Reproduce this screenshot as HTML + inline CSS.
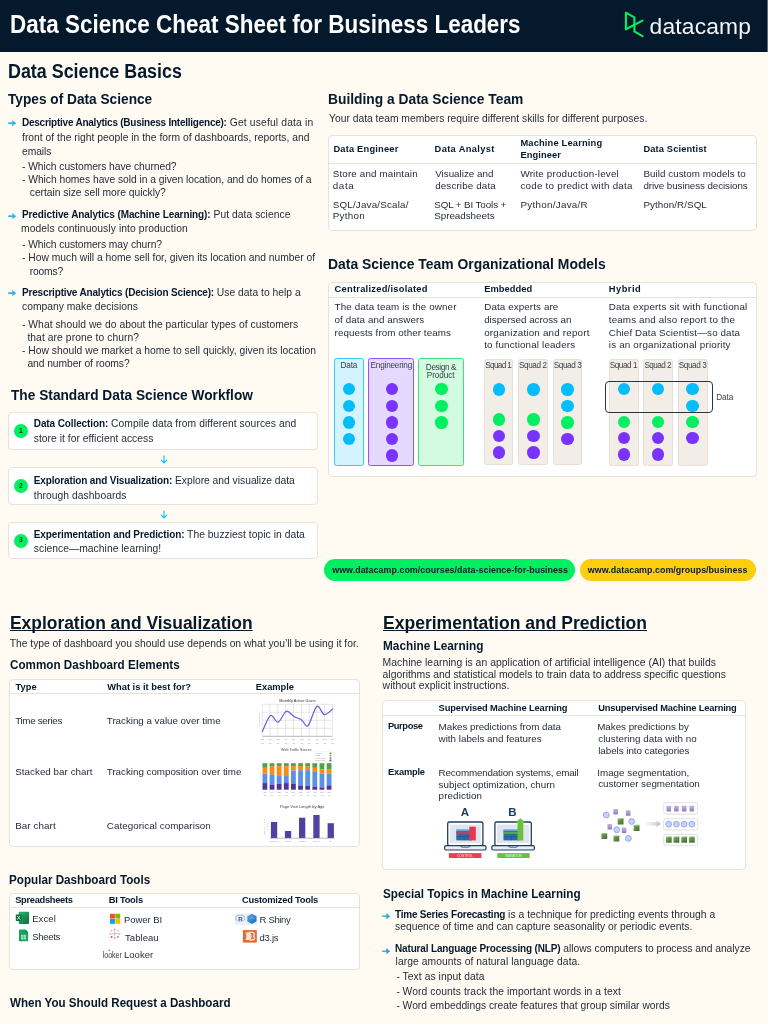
<!DOCTYPE html>
<html><head><meta charset="utf-8"><title>Data Science Cheat Sheet for Business Leaders</title>
<style>
html,body{margin:0;padding:0;}
body{width:768px;height:1024px;overflow:hidden;background:#FFFBF3;position:relative;font-family:"Liberation Sans",Arial,sans-serif;color:#1f2735;}
.t{position:absolute;white-space:nowrap;line-height:1;}
.t b{font-weight:700;color:#05192D;font-size:0.97em;}
.r{position:absolute;}
</style></head><body>
<div class="r" style="left:0.0px;top:0.0px;width:767.0px;height:51.6px;background:#05192D;"></div>
<div class="r" style="left:767.0px;top:0.0px;width:1.0px;height:51.6px;background:#5b6a7e;"></div>
<div class="t" id="f1" style="left:10.11px;top:11.97px;font-size:25.2px;font-weight:700;color:#ffffff;transform:scaleX(0.8918);transform-origin:0 0;">Data Science Cheat Sheet for Business Leaders</div>
<svg style="position:absolute;left:0;top:0" width="768" height="52"><g fill="none" stroke="#03EF62" stroke-width="2.1" stroke-linejoin="round" stroke-linecap="round"><path d="M625.9 29.3 L625.9 12.7 L634.4 17.4 L634.4 31.4 L642.5 36.2"/><path d="M625.9 29.3 L642.5 20.6"/></g></svg>
<div class="t" id="f2" style="left:649.60px;top:14.80px;font-size:22.8px;color:#f4f5f7;letter-spacing:0.171px;">datacamp</div>
<div class="t" id="f3" style="left:8.12px;top:62.28px;font-size:19.4px;font-weight:700;color:#05192D;transform:scaleX(0.9220);transform-origin:0 0;">Data Science Basics</div>
<div class="t" id="f4" style="left:8.00px;top:90.55px;font-size:15.3px;font-weight:700;color:#05192D;transform:scaleX(0.8944);transform-origin:0 0;">Types of Data Science</div>
<svg style="position:absolute;left:8.0px;top:119.0px" width="9" height="8" viewBox="0 0 9 8"><path d="M0.2 4.2 H5.6" fill="none" stroke="#35b2e4" stroke-width="1.8"/><path d="M4.3 1.1 L8.2 4.2 L4.3 7.3 Z" fill="#35b2e4"/></svg>
<div class="t" id="f5" style="left:22.00px;top:117.68px;font-size:10.3px;letter-spacing:0.160px;"><b style="letter-spacing:-0.234px">Descriptive Analytics (Business Intelligence):</b> Get useful data in</div>
<div class="t" id="f6" style="left:22.00px;top:132.68px;font-size:10.3px;letter-spacing:0.019px;">front of the right people in the form of dashboards, reports, and</div>
<div class="t" id="f7" style="left:22.00px;top:146.68px;font-size:10.3px;letter-spacing:-0.080px;">emails</div>
<div class="t" id="f8" style="left:22.00px;top:162.48px;font-size:10.3px;letter-spacing:-0.057px;">- Which customers have churned?</div>
<div class="t" id="f9" style="left:22.00px;top:175.08px;font-size:10.3px;letter-spacing:-0.038px;">- Which homes have sold in a given location, and do homes of a</div>
<div class="t" id="f10" style="left:29.79px;top:188.28px;font-size:10.3px;letter-spacing:-0.027px;">certain size sell more quickly?</div>
<svg style="position:absolute;left:8.0px;top:211.7px" width="9" height="8" viewBox="0 0 9 8"><path d="M0.2 4.2 H5.6" fill="none" stroke="#35b2e4" stroke-width="1.8"/><path d="M4.3 1.1 L8.2 4.2 L4.3 7.3 Z" fill="#35b2e4"/></svg>
<div class="t" id="f11" style="left:22.00px;top:210.38px;font-size:10.3px;letter-spacing:0.047px;"><b style="letter-spacing:-0.089px">Predictive Analytics (Machine Learning):</b> Put data science</div>
<div class="t" id="f12" style="left:21.00px;top:224.38px;font-size:10.3px;letter-spacing:0.088px;">models continuously into production</div>
<div class="t" id="f13" style="left:22.00px;top:239.78px;font-size:10.3px;letter-spacing:-0.070px;">- Which customers may churn?</div>
<div class="t" id="f14" style="left:22.00px;top:253.28px;font-size:10.3px;letter-spacing:0.002px;">- How much will a home sell for, given its location and number of</div>
<div class="t" id="f15" style="left:29.79px;top:267.08px;font-size:10.3px;letter-spacing:-0.180px;">rooms?</div>
<svg style="position:absolute;left:8.0px;top:289.0px" width="9" height="8" viewBox="0 0 9 8"><path d="M0.2 4.2 H5.6" fill="none" stroke="#35b2e4" stroke-width="1.8"/><path d="M4.3 1.1 L8.2 4.2 L4.3 7.3 Z" fill="#35b2e4"/></svg>
<div class="t" id="f16" style="left:22.00px;top:287.68px;font-size:10.3px;letter-spacing:0.014px;"><b style="letter-spacing:-0.163px">Prescriptive Analytics (Decision Science):</b> Use data to help a</div>
<div class="t" id="f17" style="left:22.00px;top:302.28px;font-size:10.3px;letter-spacing:0.010px;">company make decisions</div>
<div class="t" id="f18" style="left:22.00px;top:319.58px;font-size:10.3px;letter-spacing:0.036px;">- What should we do about the particular types of customers</div>
<div class="t" id="f19" style="left:27.39px;top:332.68px;font-size:10.3px;letter-spacing:0.078px;">that are prone to churn?</div>
<div class="t" id="f20" style="left:22.00px;top:346.08px;font-size:10.3px;letter-spacing:0.017px;">- How should we market a home to sell quickly, given its location</div>
<div class="t" id="f21" style="left:27.39px;top:359.08px;font-size:10.3px;letter-spacing:-0.068px;">and number of rooms?</div>
<div class="t" id="f22" style="left:10.62px;top:387.45px;font-size:15.3px;font-weight:700;color:#05192D;transform:scaleX(0.8959);transform-origin:0 0;">The Standard Data Science Workflow</div>
<div class="r" style="left:8.0px;top:412.0px;width:310.0px;height:38.0px;background:#fff;border:1px solid #e8e3da;border-radius:4px;box-sizing:border-box;"></div>
<div class="r" style="left:14px;top:424.4px;width:14px;height:14px;border-radius:50%;background:#03EF62;"></div>
<div class="t" style="left:14.0px;top:427.64px;font-size:6.8px;font-weight:700;color:#0a3a22;width:14px;text-align:center;">1</div>
<div class="t" id="f23" style="left:33.79px;top:418.93px;font-size:10.3px;letter-spacing:0.060px;"><b style="letter-spacing:-0.103px">Data Collection:</b> Compile data from different sources and</div>
<div class="t" id="f24" style="left:33.79px;top:433.58px;font-size:10.3px;letter-spacing:0.025px;">store it for efficient access</div>
<div class="r" style="left:8.0px;top:467.0px;width:310.0px;height:38.0px;background:#fff;border:1px solid #e8e3da;border-radius:4px;box-sizing:border-box;"></div>
<div class="r" style="left:14px;top:479.4px;width:14px;height:14px;border-radius:50%;background:#03EF62;"></div>
<div class="t" style="left:14.0px;top:482.64px;font-size:6.8px;font-weight:700;color:#0a3a22;width:14px;text-align:center;">2</div>
<div class="t" id="f25" style="left:33.79px;top:475.68px;font-size:10.3px;letter-spacing:-0.012px;"><b style="letter-spacing:-0.136px">Exploration and Visualization:</b> Explore and visualize data</div>
<div class="t" id="f26" style="left:33.79px;top:490.58px;font-size:10.3px;letter-spacing:0.059px;">through dashboards</div>
<div class="r" style="left:8.0px;top:522.0px;width:310.0px;height:37.0px;background:#fff;border:1px solid #e8e3da;border-radius:4px;box-sizing:border-box;"></div>
<div class="r" style="left:14px;top:533.9px;width:14px;height:14px;border-radius:50%;background:#03EF62;"></div>
<div class="t" style="left:14.0px;top:537.14px;font-size:6.8px;font-weight:700;color:#0a3a22;width:14px;text-align:center;">3</div>
<div class="t" id="f27" style="left:33.79px;top:529.88px;font-size:10.3px;letter-spacing:0.037px;"><b style="letter-spacing:-0.099px">Experimentation and Prediction:</b> The buzziest topic in data</div>
<div class="t" id="f28" style="left:33.79px;top:544.48px;font-size:10.3px;letter-spacing:0.033px;">science—machine learning!</div>
<svg style="position:absolute;left:160px;top:454.8px" width="8" height="9" viewBox="0 0 8 9"><path d="M4 0.5 V7.8 M1 4.8 L4 7.9 L7 4.8" fill="none" stroke="#06BDFC" stroke-width="1.1"/></svg>
<svg style="position:absolute;left:160px;top:509.5px" width="8" height="9" viewBox="0 0 8 9"><path d="M4 0.5 V7.8 M1 4.8 L4 7.9 L7 4.8" fill="none" stroke="#06BDFC" stroke-width="1.1"/></svg>
<div class="t" id="f29" style="left:328.28px;top:90.65px;font-size:15.3px;font-weight:700;color:#05192D;transform:scaleX(0.9023);transform-origin:0 0;">Building a Data Science Team</div>
<div class="t" id="f30" style="left:329.00px;top:114.28px;font-size:10.3px;letter-spacing:0.003px;">Your data team members require different skills for different purposes.</div>
<div class="r" style="left:328.0px;top:135.0px;width:429.0px;height:96.0px;background:#fff;border:1px solid #e8e3da;border-radius:4px;box-sizing:border-box;"></div>
<div class="r" style="left:329.0px;top:163.0px;width:427.0px;height:1.0px;background:#e8e3da;"></div>
<div class="t" id="f31" style="left:333.39px;top:145.03px;font-size:9.3px;font-weight:700;color:#05192D;letter-spacing:0.200px;">Data Engineer</div>
<div class="t" id="f32" style="left:434.60px;top:145.03px;font-size:9.3px;font-weight:700;color:#05192D;letter-spacing:0.336px;">Data Analyst</div>
<div class="t" id="f33" style="left:520.39px;top:139.13px;font-size:9.3px;font-weight:700;color:#05192D;letter-spacing:0.180px;">Machine Learning</div>
<div class="t" id="f34" style="left:520.39px;top:150.53px;font-size:9.3px;font-weight:700;color:#05192D;letter-spacing:0.100px;">Engineer</div>
<div class="t" id="f35" style="left:643.39px;top:144.83px;font-size:9.3px;font-weight:700;color:#05192D;letter-spacing:0.138px;">Data Scientist</div>
<div class="t" id="f36" style="left:332.79px;top:169.20px;font-size:9.8px;letter-spacing:0.153px;">Store and maintain</div>
<div class="t" id="f37" style="left:332.79px;top:180.50px;font-size:9.8px;letter-spacing:0.633px;">data</div>
<div class="t" id="f38" style="left:332.79px;top:199.50px;font-size:9.8px;letter-spacing:0.186px;">SQL/Java/Scala/</div>
<div class="t" id="f39" style="left:332.79px;top:210.70px;font-size:9.8px;letter-spacing:0.270px;">Python</div>
<div class="t" id="f40" style="left:435.19px;top:169.20px;font-size:9.8px;letter-spacing:0.008px;">Visualize and</div>
<div class="t" id="f41" style="left:435.19px;top:180.50px;font-size:9.8px;letter-spacing:0.142px;">describe data</div>
<div class="t" id="f42" style="left:434.19px;top:199.50px;font-size:9.8px;letter-spacing:-0.093px;">SQL + BI Tools +</div>
<div class="t" id="f43" style="left:434.19px;top:210.70px;font-size:9.8px;letter-spacing:-0.009px;">Spreadsheets</div>
<div class="t" id="f44" style="left:520.39px;top:169.20px;font-size:9.8px;letter-spacing:0.181px;">Write production-level</div>
<div class="t" id="f45" style="left:520.39px;top:180.50px;font-size:9.8px;letter-spacing:0.246px;">code to predict with data</div>
<div class="t" id="f46" style="left:520.39px;top:199.50px;font-size:9.8px;letter-spacing:0.300px;">Python/Java/R</div>
<div class="t" id="f47" style="left:643.39px;top:169.20px;font-size:9.8px;letter-spacing:0.052px;">Build custom models to</div>
<div class="t" id="f48" style="left:643.39px;top:180.50px;font-size:9.8px;letter-spacing:-0.083px;">drive business decisions</div>
<div class="t" id="f49" style="left:643.39px;top:199.50px;font-size:9.8px;letter-spacing:0.073px;">Python/R/SQL</div>
<div class="t" id="f50" style="left:328.09px;top:256.45px;font-size:15.3px;font-weight:700;color:#05192D;transform:scaleX(0.9082);transform-origin:0 0;">Data Science Team Organizational Models</div>
<div class="r" style="left:328.0px;top:282.0px;width:429.0px;height:195.0px;background:#fff;border:1px solid #e8e3da;border-radius:4px;box-sizing:border-box;"></div>
<div class="r" style="left:329.0px;top:297.0px;width:427.0px;height:1.0px;background:#e8e3da;"></div>
<div class="t" id="f51" style="left:334.60px;top:285.43px;font-size:9.3px;font-weight:700;color:#05192D;letter-spacing:0.263px;">Centralized/isolated</div>
<div class="t" id="f52" style="left:484.19px;top:285.43px;font-size:9.3px;font-weight:700;color:#05192D;letter-spacing:0.071px;">Embedded</div>
<div class="t" id="f53" style="left:608.79px;top:285.43px;font-size:9.3px;font-weight:700;color:#05192D;letter-spacing:0.480px;">Hybrid</div>
<div class="t" id="f54" style="left:334.60px;top:302.40px;font-size:9.8px;letter-spacing:0.124px;">The data team is the owner</div>
<div class="t" id="f55" style="left:334.60px;top:315.00px;font-size:9.8px;letter-spacing:0.078px;">of data and answers</div>
<div class="t" id="f56" style="left:334.60px;top:327.60px;font-size:9.8px;letter-spacing:0.079px;">requests from other teams</div>
<div class="t" id="f57" style="left:484.19px;top:302.40px;font-size:9.8px;letter-spacing:0.113px;">Data experts are</div>
<div class="t" id="f58" style="left:484.19px;top:315.00px;font-size:9.8px;letter-spacing:-0.022px;">dispersed across an</div>
<div class="t" id="f59" style="left:484.19px;top:327.60px;font-size:9.8px;letter-spacing:0.205px;">organization and report</div>
<div class="t" id="f60" style="left:484.19px;top:340.20px;font-size:9.8px;letter-spacing:0.165px;">to functional leaders</div>
<div class="t" id="f61" style="left:608.79px;top:302.40px;font-size:9.8px;letter-spacing:0.181px;">Data experts sit with functional</div>
<div class="t" id="f62" style="left:608.79px;top:315.00px;font-size:9.8px;letter-spacing:0.152px;">teams and also report to the</div>
<div class="t" id="f63" style="left:608.79px;top:327.60px;font-size:9.8px;letter-spacing:0.119px;">Chief Data Scientist—so data</div>
<div class="t" id="f64" style="left:608.79px;top:340.20px;font-size:9.8px;letter-spacing:0.186px;">is an organizational priority</div>
<div class="r" style="left:334.0px;top:358.2px;width:30.1px;height:108.1px;background:#d3f3ff;border:1px solid #3cc8f5;border-radius:2.5px;box-sizing:border-box;"></div>
<div class="t" id="f65" style="left:340.39px;top:362.06px;font-size:8.2px;color:#3a3f4b;letter-spacing:-0.100px;">Data</div>
<div class="r" style="left:368.3px;top:358.2px;width:45.9px;height:108.1px;background:#e6d9ff;border:1px solid #8f55ff;border-radius:2.5px;box-sizing:border-box;"></div>
<div class="t" id="f66" style="left:370.55px;top:362.06px;font-size:8.2px;color:#3a3f4b;letter-spacing:-0.200px;">Engineering</div>
<div class="r" style="left:418.4px;top:358.2px;width:45.6px;height:108.1px;background:#d3fbe0;border:1px solid #3ee27d;border-radius:2.5px;box-sizing:border-box;"></div>
<div class="t" id="f67" style="left:425.84px;top:363.56px;font-size:8.2px;color:#3a3f4b;letter-spacing:-0.357px;">Design &amp;</div>
<div class="t" id="f68" style="left:426.84px;top:372.16px;font-size:8.2px;color:#3a3f4b;letter-spacing:-0.083px;">Product</div>
<div class="r" style="left:342.8px;top:382.9px;width:12.6px;height:12.6px;border-radius:50%;background:#06BDFC;"></div>
<div class="r" style="left:342.8px;top:399.5px;width:12.6px;height:12.6px;border-radius:50%;background:#06BDFC;"></div>
<div class="r" style="left:342.8px;top:416.1px;width:12.6px;height:12.6px;border-radius:50%;background:#06BDFC;"></div>
<div class="r" style="left:342.8px;top:432.7px;width:12.6px;height:12.6px;border-radius:50%;background:#06BDFC;"></div>
<div class="r" style="left:385.7px;top:382.9px;width:12.6px;height:12.6px;border-radius:50%;background:#7933FF;"></div>
<div class="r" style="left:385.7px;top:399.5px;width:12.6px;height:12.6px;border-radius:50%;background:#7933FF;"></div>
<div class="r" style="left:385.7px;top:416.1px;width:12.6px;height:12.6px;border-radius:50%;background:#7933FF;"></div>
<div class="r" style="left:385.7px;top:432.7px;width:12.6px;height:12.6px;border-radius:50%;background:#7933FF;"></div>
<div class="r" style="left:385.7px;top:449.4px;width:12.6px;height:12.6px;border-radius:50%;background:#7933FF;"></div>
<div class="r" style="left:435.4px;top:382.9px;width:12.6px;height:12.6px;border-radius:50%;background:#03EF62;"></div>
<div class="r" style="left:435.4px;top:399.5px;width:12.6px;height:12.6px;border-radius:50%;background:#03EF62;"></div>
<div class="r" style="left:435.4px;top:416.1px;width:12.6px;height:12.6px;border-radius:50%;background:#03EF62;"></div>
<div class="r" style="left:484.0px;top:359.1px;width:29.4px;height:106.4px;background:#f2eee7;border:1px solid #e6e0d6;border-radius:2.5px;box-sizing:border-box;"></div>
<div class="t" id="f69" style="left:485.19px;top:362.06px;font-size:8.2px;color:#3a3f4b;letter-spacing:-0.633px;">Squad 1</div>
<div class="r" style="left:518.4px;top:359.1px;width:29.7px;height:106.4px;background:#f2eee7;border:1px solid #e6e0d6;border-radius:2.5px;box-sizing:border-box;"></div>
<div class="t" id="f70" style="left:518.95px;top:362.06px;font-size:8.2px;color:#3a3f4b;letter-spacing:-0.400px;">Squad 2</div>
<div class="r" style="left:553.0px;top:359.1px;width:29.3px;height:106.4px;background:#f2eee7;border:1px solid #e6e0d6;border-radius:2.5px;box-sizing:border-box;"></div>
<div class="t" id="f71" style="left:553.74px;top:362.06px;font-size:8.2px;color:#3a3f4b;letter-spacing:-0.400px;">Squad 3</div>
<div class="r" style="left:492.6px;top:383.1px;width:12.6px;height:12.6px;border-radius:50%;background:#06BDFC;"></div>
<div class="r" style="left:492.6px;top:413.0px;width:12.6px;height:12.6px;border-radius:50%;background:#03EF62;"></div>
<div class="r" style="left:492.6px;top:429.6px;width:12.6px;height:12.6px;border-radius:50%;background:#7933FF;"></div>
<div class="r" style="left:492.6px;top:446.2px;width:12.6px;height:12.6px;border-radius:50%;background:#7933FF;"></div>
<div class="r" style="left:527.2px;top:383.1px;width:12.6px;height:12.6px;border-radius:50%;background:#06BDFC;"></div>
<div class="r" style="left:527.2px;top:413.0px;width:12.6px;height:12.6px;border-radius:50%;background:#03EF62;"></div>
<div class="r" style="left:527.2px;top:429.6px;width:12.6px;height:12.6px;border-radius:50%;background:#7933FF;"></div>
<div class="r" style="left:527.2px;top:446.2px;width:12.6px;height:12.6px;border-radius:50%;background:#7933FF;"></div>
<div class="r" style="left:561.4px;top:383.1px;width:12.6px;height:12.6px;border-radius:50%;background:#06BDFC;"></div>
<div class="r" style="left:561.4px;top:399.7px;width:12.6px;height:12.6px;border-radius:50%;background:#06BDFC;"></div>
<div class="r" style="left:561.4px;top:416.1px;width:12.6px;height:12.6px;border-radius:50%;background:#03EF62;"></div>
<div class="r" style="left:561.4px;top:432.7px;width:12.6px;height:12.6px;border-radius:50%;background:#7933FF;"></div>
<div class="r" style="left:609.2px;top:358.8px;width:29.5px;height:107.6px;background:#f2eee7;border:1px solid #e6e0d6;border-radius:2.5px;box-sizing:border-box;"></div>
<div class="t" id="f72" style="left:609.74px;top:362.06px;font-size:8.2px;color:#3a3f4b;letter-spacing:-0.467px;">Squad 1</div>
<div class="r" style="left:643.1px;top:358.8px;width:29.8px;height:107.6px;background:#f2eee7;border:1px solid #e6e0d6;border-radius:2.5px;box-sizing:border-box;"></div>
<div class="t" id="f73" style="left:644.39px;top:362.06px;font-size:8.2px;color:#3a3f4b;letter-spacing:-0.567px;">Squad 2</div>
<div class="r" style="left:677.7px;top:358.8px;width:29.9px;height:107.6px;background:#f2eee7;border:1px solid #e6e0d6;border-radius:2.5px;box-sizing:border-box;"></div>
<div class="t" id="f74" style="left:678.74px;top:362.06px;font-size:8.2px;color:#3a3f4b;letter-spacing:-0.400px;">Squad 3</div>
<div class="r" style="left:617.7px;top:382.7px;width:12.6px;height:12.6px;border-radius:50%;background:#06BDFC;"></div>
<div class="r" style="left:617.7px;top:415.5px;width:12.6px;height:12.6px;border-radius:50%;background:#03EF62;"></div>
<div class="r" style="left:617.7px;top:431.7px;width:12.6px;height:12.6px;border-radius:50%;background:#7933FF;"></div>
<div class="r" style="left:617.7px;top:448.1px;width:12.6px;height:12.6px;border-radius:50%;background:#7933FF;"></div>
<div class="r" style="left:651.9px;top:382.7px;width:12.6px;height:12.6px;border-radius:50%;background:#06BDFC;"></div>
<div class="r" style="left:651.9px;top:415.5px;width:12.6px;height:12.6px;border-radius:50%;background:#03EF62;"></div>
<div class="r" style="left:651.9px;top:431.7px;width:12.6px;height:12.6px;border-radius:50%;background:#7933FF;"></div>
<div class="r" style="left:651.9px;top:448.1px;width:12.6px;height:12.6px;border-radius:50%;background:#7933FF;"></div>
<div class="r" style="left:686.2px;top:382.7px;width:12.6px;height:12.6px;border-radius:50%;background:#06BDFC;"></div>
<div class="r" style="left:686.2px;top:399.5px;width:12.6px;height:12.6px;border-radius:50%;background:#06BDFC;"></div>
<div class="r" style="left:686.2px;top:415.5px;width:12.6px;height:12.6px;border-radius:50%;background:#03EF62;"></div>
<div class="r" style="left:686.2px;top:431.7px;width:12.6px;height:12.6px;border-radius:50%;background:#7933FF;"></div>
<div class="r" style="left:604.8px;top:380.6px;width:107.9px;height:32.4px;border:1.4px solid #2b3442;border-radius:4px;box-sizing:border-box;"></div>
<div class="t" id="f75" style="left:716.19px;top:393.76px;font-size:8.2px;color:#3a3f4b;letter-spacing:-0.067px;">Data</div>
<div class="r" style="left:324.0px;top:559.2px;width:251.0px;height:22.3px;background:#03EF62;border-radius:11.2px;"></div>
<div class="t" id="f76" style="left:332.19px;top:565.67px;font-size:8.9px;font-weight:700;color:#05192D;letter-spacing:0.037px;">www.datacamp.com/courses/data-science-for-business</div>
<div class="r" style="left:579.6px;top:559.2px;width:176.7px;height:22.3px;background:#FCCE0D;border-radius:11.2px;"></div>
<div class="t" id="f77" style="left:587.79px;top:565.67px;font-size:8.9px;font-weight:700;color:#05192D;letter-spacing:0.035px;">www.datacamp.com/groups/business</div>
<div class="t" id="f78" style="left:9.80px;top:612.73px;font-size:19.1px;font-weight:700;color:#05192D;text-decoration:underline;text-decoration-thickness:1.4px;text-underline-offset:1.2px;text-decoration-skip-ink:none;transform:scaleX(0.9120);transform-origin:0 0;">Exploration and Visualization</div>
<div class="t" id="f79" style="left:9.79px;top:639.48px;font-size:10.3px;letter-spacing:-0.012px;">The type of dashboard you should use depends on what you’ll be using it for.</div>
<div class="t" id="f80" style="left:9.80px;top:658.57px;font-size:12.2px;font-weight:700;color:#05192D;transform:scaleX(0.9565);transform-origin:0 0;">Common Dashboard Elements</div>
<div class="r" style="left:9.0px;top:679.0px;width:351.0px;height:168.0px;background:#fff;border:1px solid #e8e3da;border-radius:4px;box-sizing:border-box;"></div>
<div class="r" style="left:10.0px;top:693.0px;width:349.0px;height:1.0px;background:#e8e3da;"></div>
<div class="t" style="left:15.6px;top:682.73px;font-size:9.3px;font-weight:700;color:#05192D;">Type</div>
<div class="t" style="left:107.3px;top:682.73px;font-size:9.3px;font-weight:700;color:#05192D;">What is it best for?</div>
<div class="t" style="left:255.8px;top:682.73px;font-size:9.3px;font-weight:700;color:#05192D;">Example</div>
<div class="t" id="f81" style="left:15.19px;top:715.90px;font-size:9.8px;letter-spacing:-0.310px;">Time series</div>
<div class="t" id="f82" style="left:106.79px;top:715.90px;font-size:9.8px;letter-spacing:-0.024px;">Tracking a value over time</div>
<div class="t" id="f83" style="left:15.19px;top:766.90px;font-size:9.8px;letter-spacing:0.038px;">Stacked bar chart</div>
<div class="t" id="f84" style="left:106.79px;top:766.90px;font-size:9.8px;letter-spacing:-0.022px;">Tracking composition over time</div>
<div class="t" id="f85" style="left:15.19px;top:820.80px;font-size:9.8px;letter-spacing:0.087px;">Bar chart</div>
<div class="t" id="f86" style="left:106.79px;top:820.80px;font-size:9.8px;letter-spacing:0.052px;">Categorical comparison</div>
<svg style="position:absolute;left:250px;top:690px" width="100" height="160" viewBox="250 690 100 160" font-family="Liberation Sans,sans-serif">
<text x="297.5" y="701.6" font-size="3.9" text-anchor="middle" fill="#333">Monthly Active Users</text>
<path d="M262.3 704.3V736.3 M269.9 704.3V736.3 M277.9 704.3V736.3 M285.7 704.3V736.3 M293.6 704.3V736.3 M301.6 704.3V736.3 M309.2 704.3V736.3 M316.8 704.3V736.3 M324.6 704.3V736.3 M332.6 704.3V736.3 M262.3 704.3H332.6 M262.3 712.3H332.6 M262.3 720.3H332.6 M262.3 728.3H332.6" stroke="#cfcfd4" stroke-width="0.5" fill="none"/>
<path d="M262.3 736.3H332.6" stroke="#8a8a8a" stroke-width="0.6"/>
<path d="M262.3 731.6 C263.67 728.92 267.87 717.07 270.5 715.5 C273.13 713.93 275.47 722.90 278.1 722.2 C280.73 721.50 283.67 712.27 286.3 711.3 C288.93 710.33 291.35 714.97 293.9 716.4 C296.45 717.83 299.25 718.35 301.6 719.9 C303.95 721.45 305.47 727.95 308 725.7 C310.53 723.45 314.07 708.25 316.8 706.4 C319.53 704.55 321.77 714.17 324.4 714.6 C327.03 715.03 331.23 709.93 332.6 709" stroke="#5f5fd2" stroke-width="1.2" fill="none" stroke-linecap="round"/>
<text x="262.3" y="740.2" font-size="2.3" text-anchor="middle" fill="#9a9a9a">Jan</text>
<text x="262.3" y="743.6" font-size="2.3" text-anchor="middle" fill="#9a9a9a">'18</text>
<text x="269.9" y="740.2" font-size="2.3" text-anchor="middle" fill="#9a9a9a">Feb</text>
<text x="269.9" y="743.6" font-size="2.3" text-anchor="middle" fill="#9a9a9a">'18</text>
<text x="277.9" y="740.2" font-size="2.3" text-anchor="middle" fill="#9a9a9a">Mar</text>
<text x="277.9" y="743.6" font-size="2.3" text-anchor="middle" fill="#9a9a9a">'18</text>
<text x="285.7" y="740.2" font-size="2.3" text-anchor="middle" fill="#9a9a9a">Apr</text>
<text x="285.7" y="743.6" font-size="2.3" text-anchor="middle" fill="#9a9a9a">'18</text>
<text x="293.6" y="740.2" font-size="2.3" text-anchor="middle" fill="#9a9a9a">May</text>
<text x="293.6" y="743.6" font-size="2.3" text-anchor="middle" fill="#9a9a9a">'18</text>
<text x="301.6" y="740.2" font-size="2.3" text-anchor="middle" fill="#9a9a9a">Jun</text>
<text x="301.6" y="743.6" font-size="2.3" text-anchor="middle" fill="#9a9a9a">'18</text>
<text x="309.2" y="740.2" font-size="2.3" text-anchor="middle" fill="#9a9a9a">Jul</text>
<text x="309.2" y="743.6" font-size="2.3" text-anchor="middle" fill="#9a9a9a">'18</text>
<text x="316.8" y="740.2" font-size="2.3" text-anchor="middle" fill="#9a9a9a">Aug</text>
<text x="316.8" y="743.6" font-size="2.3" text-anchor="middle" fill="#9a9a9a">'18</text>
<text x="324.6" y="740.2" font-size="2.3" text-anchor="middle" fill="#9a9a9a">Sep</text>
<text x="324.6" y="743.6" font-size="2.3" text-anchor="middle" fill="#9a9a9a">'18</text>
<text x="332.6" y="740.2" font-size="2.3" text-anchor="middle" fill="#9a9a9a">Oct</text>
<text x="332.6" y="743.6" font-size="2.3" text-anchor="middle" fill="#9a9a9a">'18</text>
<text x="0" y="0" font-size="2.3" fill="#aaa" transform="translate(259.6 720) rotate(-90)" text-anchor="middle">Active Users</text>
<text x="296.3" y="750.9" font-size="3.6" text-anchor="middle" fill="#444">Web Traffic Source</text>
<rect x="262.50" y="763.20" width="4.8" height="4.65" fill="#55a044"/>
<rect x="262.50" y="767.85" width="4.8" height="5.86" fill="#fb8c12"/>
<rect x="262.50" y="773.71" width="4.8" height="9.38" fill="#5b90e4"/>
<rect x="262.50" y="783.09" width="4.8" height="6.61" fill="#4f3597"/>
<text x="264.90" y="792.6" font-size="2.2" text-anchor="middle" fill="#9a9a9a">Jan</text>
<text x="264.90" y="795.6" font-size="2.2" text-anchor="middle" fill="#9a9a9a">'18</text>
<rect x="269.63" y="763.20" width="4.8" height="3.48" fill="#55a044"/>
<rect x="269.63" y="766.68" width="4.8" height="7.62" fill="#fb8c12"/>
<rect x="269.63" y="774.30" width="4.8" height="10.31" fill="#5b90e4"/>
<rect x="269.63" y="784.61" width="4.8" height="5.09" fill="#4f3597"/>
<text x="272.03" y="792.6" font-size="2.2" text-anchor="middle" fill="#9a9a9a">Feb</text>
<text x="272.03" y="795.6" font-size="2.2" text-anchor="middle" fill="#9a9a9a">'18</text>
<rect x="276.76" y="763.20" width="4.8" height="2.89" fill="#55a044"/>
<rect x="276.76" y="766.09" width="4.8" height="9.96" fill="#fb8c12"/>
<rect x="276.76" y="776.06" width="4.8" height="7.85" fill="#5b90e4"/>
<rect x="276.76" y="783.91" width="4.8" height="5.79" fill="#4f3597"/>
<text x="279.16" y="792.6" font-size="2.2" text-anchor="middle" fill="#9a9a9a">Mar</text>
<text x="279.16" y="795.6" font-size="2.2" text-anchor="middle" fill="#9a9a9a">'18</text>
<rect x="283.89" y="763.20" width="4.8" height="2.89" fill="#55a044"/>
<rect x="283.89" y="766.09" width="4.8" height="9.96" fill="#fb8c12"/>
<rect x="283.89" y="776.06" width="4.8" height="7.03" fill="#5b90e4"/>
<rect x="283.89" y="783.09" width="4.8" height="6.61" fill="#4f3597"/>
<text x="286.29" y="792.6" font-size="2.2" text-anchor="middle" fill="#9a9a9a">Apr</text>
<text x="286.29" y="795.6" font-size="2.2" text-anchor="middle" fill="#9a9a9a">'18</text>
<rect x="291.02" y="763.20" width="4.8" height="2.89" fill="#55a044"/>
<rect x="291.02" y="766.09" width="4.8" height="4.45" fill="#fb8c12"/>
<rect x="291.02" y="770.55" width="4.8" height="13.36" fill="#5b90e4"/>
<rect x="291.02" y="783.91" width="4.8" height="5.79" fill="#4f3597"/>
<text x="293.42" y="792.6" font-size="2.2" text-anchor="middle" fill="#9a9a9a">May</text>
<text x="293.42" y="795.6" font-size="2.2" text-anchor="middle" fill="#9a9a9a">'18</text>
<rect x="298.15" y="763.20" width="4.8" height="2.89" fill="#55a044"/>
<rect x="298.15" y="766.09" width="4.8" height="4.10" fill="#fb8c12"/>
<rect x="298.15" y="770.20" width="4.8" height="15.23" fill="#5b90e4"/>
<rect x="298.15" y="785.43" width="4.8" height="4.27" fill="#4f3597"/>
<text x="300.55" y="792.6" font-size="2.2" text-anchor="middle" fill="#9a9a9a">Jun</text>
<text x="300.55" y="795.6" font-size="2.2" text-anchor="middle" fill="#9a9a9a">'18</text>
<rect x="305.28" y="763.20" width="4.8" height="3.48" fill="#55a044"/>
<rect x="305.28" y="766.68" width="4.8" height="3.52" fill="#fb8c12"/>
<rect x="305.28" y="770.20" width="4.8" height="15.82" fill="#5b90e4"/>
<rect x="305.28" y="786.02" width="4.8" height="3.68" fill="#4f3597"/>
<text x="307.68" y="792.6" font-size="2.2" text-anchor="middle" fill="#9a9a9a">Jul</text>
<text x="307.68" y="795.6" font-size="2.2" text-anchor="middle" fill="#9a9a9a">'18</text>
<rect x="312.41" y="763.20" width="4.8" height="4.65" fill="#55a044"/>
<rect x="312.41" y="767.85" width="4.8" height="4.10" fill="#fb8c12"/>
<rect x="312.41" y="771.95" width="4.8" height="14.65" fill="#5b90e4"/>
<rect x="312.41" y="786.60" width="4.8" height="3.10" fill="#4f3597"/>
<text x="314.81" y="792.6" font-size="2.2" text-anchor="middle" fill="#9a9a9a">Aug</text>
<text x="314.81" y="795.6" font-size="2.2" text-anchor="middle" fill="#9a9a9a">'18</text>
<rect x="319.54" y="763.20" width="4.8" height="6.41" fill="#55a044"/>
<rect x="319.54" y="769.61" width="4.8" height="4.10" fill="#fb8c12"/>
<rect x="319.54" y="773.71" width="4.8" height="13.71" fill="#5b90e4"/>
<rect x="319.54" y="787.42" width="4.8" height="2.28" fill="#4f3597"/>
<text x="321.94" y="792.6" font-size="2.2" text-anchor="middle" fill="#9a9a9a">Sep</text>
<text x="321.94" y="795.6" font-size="2.2" text-anchor="middle" fill="#9a9a9a">'18</text>
<rect x="326.67" y="763.20" width="4.8" height="6.41" fill="#55a044"/>
<rect x="326.67" y="769.61" width="4.8" height="4.10" fill="#fb8c12"/>
<rect x="326.67" y="773.71" width="4.8" height="11.72" fill="#5b90e4"/>
<rect x="326.67" y="785.43" width="4.8" height="4.27" fill="#4f3597"/>
<text x="329.07" y="792.6" font-size="2.2" text-anchor="middle" fill="#9a9a9a">Oct</text>
<text x="329.07" y="795.6" font-size="2.2" text-anchor="middle" fill="#9a9a9a">'18</text>
<rect x="314.8" y="751.2" width="17" height="10" fill="#fff" stroke="#e4e4e4" stroke-width="0.3"/>
<text x="315.6" y="754.00" font-size="1.8" fill="#999">Referral</text>
<rect x="329.6" y="752.50" width="1.7" height="1.7" fill="#55a044"/>
<text x="315.6" y="756.35" font-size="1.8" fill="#999">Blogs</text>
<rect x="329.6" y="754.85" width="1.7" height="1.7" fill="#fb8c12"/>
<text x="315.6" y="758.70" font-size="1.8" fill="#999">Social Media</text>
<rect x="329.6" y="757.20" width="1.7" height="1.7" fill="#5b90e4"/>
<text x="315.6" y="761.05" font-size="1.8" fill="#999">Email Visits</text>
<rect x="329.6" y="759.55" width="1.7" height="1.7" fill="#4f3597"/>
<text x="0" y="0" font-size="2.2" fill="#bbb" transform="translate(261 776) rotate(-90)" text-anchor="middle">Percent</text>
<text x="302.2" y="808" font-size="4" text-anchor="middle" fill="#444">Page Visit Length by Age</text>
<rect x="270.9" y="822" width="6.3" height="16.0" fill="#5240a3"/>
<rect x="284.9" y="831" width="6.3" height="7.0" fill="#5240a3"/>
<rect x="299.0" y="817.7" width="6.3" height="20.3" fill="#5240a3"/>
<rect x="313.3" y="815" width="6.3" height="23.0" fill="#5240a3"/>
<rect x="327.6" y="823.2" width="6.3" height="14.8" fill="#5240a3"/>
<path d="M269.8 838.2H334.4" stroke="#777" stroke-width="0.5"/>
<text x="274.05" y="841.6" font-size="2.3" text-anchor="middle" fill="#999">Under 18</text>
<text x="288.05" y="841.6" font-size="2.3" text-anchor="middle" fill="#999">18-25</text>
<text x="302.15" y="841.6" font-size="2.3" text-anchor="middle" fill="#999">25-35</text>
<text x="316.45" y="841.6" font-size="2.3" text-anchor="middle" fill="#999">35-45</text>
<text x="330.75" y="841.6" font-size="2.3" text-anchor="middle" fill="#999">45+</text>
<text x="0" y="0" font-size="2.2" fill="#aaa" transform="translate(264.7 827) rotate(-90)" text-anchor="middle">Avg. visit length</text>
<text x="0" y="0" font-size="2.2" fill="#aaa" transform="translate(267.7 827) rotate(-90)" text-anchor="middle">(minutes)</text>
</svg>
<div class="t" id="f87" style="left:8.84px;top:873.67px;font-size:12.2px;font-weight:700;color:#05192D;transform:scaleX(0.9575);transform-origin:0 0;">Popular Dashboard Tools</div>
<div class="r" style="left:9.0px;top:893.0px;width:351.0px;height:77.0px;background:#fff;border:1px solid #e8e3da;border-radius:4px;box-sizing:border-box;"></div>
<div class="r" style="left:10.0px;top:907.0px;width:349.0px;height:1.0px;background:#e8e3da;"></div>
<div class="t" id="f88" style="left:15.19px;top:895.93px;font-size:9.3px;font-weight:700;color:#05192D;letter-spacing:-0.291px;">Spreadsheets</div>
<div class="t" id="f89" style="left:108.79px;top:895.93px;font-size:9.3px;font-weight:700;color:#05192D;letter-spacing:-0.243px;">BI Tools</div>
<div class="t" id="f90" style="left:242.00px;top:895.73px;font-size:9.3px;font-weight:700;color:#05192D;letter-spacing:-0.207px;">Customized Tools</div>
<div class="t" id="f91" style="left:32.19px;top:914.46px;font-size:9.5px;letter-spacing:0.100px;">Excel</div>
<div class="t" id="f92" style="left:32.19px;top:932.16px;font-size:9.5px;letter-spacing:-0.280px;">Sheets</div>
<div class="t" id="f93" style="left:124.00px;top:915.26px;font-size:9.5px;letter-spacing:-0.071px;">Power BI</div>
<div class="t" id="f94" style="left:125.00px;top:932.76px;font-size:9.5px;letter-spacing:0.050px;">Tableau</div>
<div class="t" id="f95" style="left:124.00px;top:950.46px;font-size:9.5px;letter-spacing:0.020px;">Looker</div>
<div class="t" id="f96" style="left:259.60px;top:915.26px;font-size:9.5px;letter-spacing:-0.350px;">R Shiny</div>
<div class="t" id="f97" style="left:259.60px;top:932.56px;font-size:9.5px;letter-spacing:-0.300px;">d3.js</div>
<svg style="position:absolute;left:0;top:900px" width="270" height="60" viewBox="0 900 270 60" font-family="Liberation Sans,sans-serif">
<defs><linearGradient id="xg" x1="0" y1="0" x2="1" y2="1"><stop offset="0" stop-color="#2fbf77"/><stop offset="1" stop-color="#0b6b38"/></linearGradient><linearGradient id="hx" x1="0" y1="0" x2="1" y2="1"><stop offset="0" stop-color="#5aa6e8"/><stop offset="1" stop-color="#2565b5"/></linearGradient></defs>
<rect x="18.7" y="911.8" width="10.3" height="12.1" rx="0.8" fill="url(#xg)"/>
<path d="M23.8 911.8V923.9 M18.7 917.8H29" stroke="#0e5c32" stroke-width="0.35" opacity="0.5"/>
<rect x="15.8" y="914.5" width="5.8" height="6.6" rx="0.6" fill="#136d3b"/>
<path d="M17.2 915.9L20.2 919.7M20.2 915.9L17.2 919.7" stroke="#c8f0d8" stroke-width="0.9"/>
<path d="M19.6 929.5H25.3L28.1 932.3V940.6Q28.1 941.2 27.5 941.2H19.6Q19 941.2 19 940.6V930.1Q19 929.5 19.6 929.5Z" fill="#16a35e"/>
<path d="M25.3 929.5V932.3H28.1Z" fill="#0c7a43"/>
<rect x="21" y="934.9" width="5.1" height="4.5" fill="#a8e2c0"/>
<path d="M21 937.1H26.1M23.5 934.9V939.4" stroke="#16a35e" stroke-width="0.4"/>
<rect x="110" y="913.8" width="4.9" height="4.8" fill="#f25022"/>
<rect x="115.3" y="913.8" width="4.9" height="4.8" fill="#7fba00"/>
<rect x="110" y="919" width="4.9" height="4.8" fill="#00a4ef"/>
<rect x="115.3" y="919" width="4.9" height="4.8" fill="#ffb900"/>
<path d="M112.2 933.8H117.39999999999999M114.8 931.1999999999999V936.4" stroke="#e8a0a0" stroke-width="0.8"/>
<path d="M113.39999999999999 929.6H116.2M114.8 928.2V931.0" stroke="#9aa6c0" stroke-width="0.6"/>
<path d="M113.39999999999999 938.0H116.2M114.8 936.6V939.4" stroke="#9aa0b0" stroke-width="0.6"/>
<path d="M109.1 933.8H111.9M110.5 932.4V935.1999999999999" stroke="#d9b0b0" stroke-width="0.6"/>
<path d="M117.69999999999999 933.8H120.5M119.1 932.4V935.1999999999999" stroke="#9aa6d0" stroke-width="0.6"/>
<path d="M110.6 930.6H112.6M111.6 929.6V931.6" stroke="#e3a7a7" stroke-width="0.6"/>
<path d="M117.0 930.6H119.0M118.0 929.6V931.6" stroke="#b0b8c8" stroke-width="0.6"/>
<path d="M110.6 937.0H112.6M111.6 936.0V938.0" stroke="#b04070" stroke-width="0.8"/>
<path d="M117.0 937.0H119.0M118.0 936.0V938.0" stroke="#7080a8" stroke-width="0.8"/>
<text x="102.8" y="957.6" font-size="8.6" fill="#3a3a3a" textLength="19" lengthAdjust="spacingAndGlyphs">looker</text>
<circle cx="109.2" cy="950.2" r="0.7" fill="#555"/>
<rect x="234.8" y="913.4" width="22.5" height="11.5" rx="1.5" fill="#e9f0f9"/>
<ellipse cx="240.2" cy="918.2" rx="4.6" ry="3.1" fill="none" stroke="#b9c0cc" stroke-width="1.1"/>
<text x="238.3" y="921.1" font-size="6.2" font-weight="700" fill="#2a5ea8">R</text>
<path d="M251.9 913.7L256.5 916.3V921.4L251.9 924L247.3 921.4V916.3Z" fill="url(#hx)"/>
<path d="M249.8 918.9Q251.9 916.2 254.4 918.4" stroke="#9fd0f6" stroke-width="0.6" fill="none"/>
<rect x="242.9" y="930.1" width="13.9" height="12.5" fill="#e06a32"/>
<path d="M245.3 932.4H248.3Q251.6 932.4 251.6 936.2Q251.6 940.0 248.3 940.0H245.3Q247.4 936.2 245.3 932.4Z" fill="#fde3d2"/>
<path d="M248.8 932.4H252.1Q254.4 932.4 254.4 934.3Q254.4 936.1 252.9 936.2Q254.6 936.4 254.6 938.1Q254.6 940.0 252.1 940.0H249.6" fill="none" stroke="#fde3d2" stroke-width="1.3"/>
</svg>
<div class="t" id="f98" style="left:9.61px;top:996.97px;font-size:12.2px;font-weight:700;color:#05192D;transform:scaleX(0.9511);transform-origin:0 0;">When You Should Request a Dashboard</div>
<div class="t" id="f99" style="left:382.61px;top:612.73px;font-size:19.1px;font-weight:700;color:#05192D;text-decoration:underline;text-decoration-thickness:1.4px;text-underline-offset:1.2px;text-decoration-skip-ink:none;transform:scaleX(0.9181);transform-origin:0 0;">Experimentation and Prediction</div>
<div class="t" id="f100" style="left:382.60px;top:640.17px;font-size:12.2px;font-weight:700;color:#05192D;transform:scaleX(0.9689);transform-origin:0 0;">Machine Learning</div>
<div class="t" id="f101" style="left:382.60px;top:658.00px;font-size:10.4px;letter-spacing:0.031px;">Machine learning is an application of artificial intelligence (AI) that builds</div>
<div class="t" id="f102" style="left:382.60px;top:669.50px;font-size:10.4px;letter-spacing:-0.013px;">algorithms and statistical models to train data to address specific questions</div>
<div class="t" id="f103" style="left:382.60px;top:681.00px;font-size:10.4px;letter-spacing:0.028px;">without explicit instructions.</div>
<div class="r" style="left:382.0px;top:700.0px;width:364.0px;height:170.0px;background:#fff;border:1px solid #e8e3da;border-radius:4px;box-sizing:border-box;"></div>
<div class="r" style="left:383.0px;top:715.0px;width:362.0px;height:1.0px;background:#e8e3da;"></div>
<div class="t" id="f104" style="left:438.60px;top:703.73px;font-size:9.3px;font-weight:700;color:#05192D;letter-spacing:-0.112px;">Supervised Machine Learning</div>
<div class="t" id="f105" style="left:598.19px;top:703.83px;font-size:9.3px;font-weight:700;color:#05192D;letter-spacing:-0.161px;">Unsupervised Machine Learning</div>
<div class="t" id="f106" style="left:388.00px;top:721.93px;font-size:9.3px;font-weight:700;color:#05192D;letter-spacing:-0.383px;">Purpose</div>
<div class="t" id="f107" style="left:388.00px;top:768.33px;font-size:9.3px;font-weight:700;color:#05192D;letter-spacing:-0.200px;">Example</div>
<div class="t" id="f108" style="left:438.60px;top:721.80px;font-size:9.8px;letter-spacing:-0.027px;">Makes predictions from data</div>
<div class="t" id="f109" style="left:438.60px;top:733.60px;font-size:9.8px;letter-spacing:0.004px;">with labels and features</div>
<div class="t" id="f110" style="left:597.19px;top:722.20px;font-size:9.8px;letter-spacing:-0.016px;">Makes predictions by</div>
<div class="t" id="f111" style="left:598.19px;top:734.00px;font-size:9.8px;letter-spacing:0.045px;">clustering data with no</div>
<div class="t" id="f112" style="left:598.19px;top:745.80px;font-size:9.8px;letter-spacing:-0.038px;">labels into categories</div>
<div class="t" id="f113" style="left:438.60px;top:768.30px;font-size:9.8px;letter-spacing:-0.146px;">Recommendation systems, email</div>
<div class="t" id="f114" style="left:438.60px;top:779.50px;font-size:9.8px;letter-spacing:0.015px;">subject optimization, churn</div>
<div class="t" id="f115" style="left:438.60px;top:790.70px;font-size:9.8px;letter-spacing:0.111px;">prediction</div>
<div class="t" id="f116" style="left:597.19px;top:767.70px;font-size:9.8px;letter-spacing:0.028px;">Image segmentation,</div>
<div class="t" id="f117" style="left:598.19px;top:779.40px;font-size:9.8px;letter-spacing:-0.010px;">customer segmentation</div>
<svg style="position:absolute;left:440px;top:800px" width="270" height="62" viewBox="440 800 270 62" font-family="Liberation Sans,sans-serif">
<defs><linearGradient id="ar" x1="0" x2="1"><stop offset="0" stop-color="#e2e2e2" stop-opacity="0.2"/><stop offset="1" stop-color="#b8b8b8"/></linearGradient><linearGradient id="gc" x1="0" y1="0" x2="1" y2="1"><stop offset="0" stop-color="#79a960"/><stop offset="1" stop-color="#3f6a2c"/></linearGradient><linearGradient id="pc" x1="0" y1="0" x2="0" y2="1"><stop offset="0" stop-color="#c3b6e0"/><stop offset="1" stop-color="#8e7dbe"/></linearGradient></defs>
<text x="465" y="816.3" font-size="11.5" font-weight="700" fill="#1d3b5e" text-anchor="middle">A</text>
<text x="512.3" y="816.3" font-size="11.5" font-weight="700" fill="#1d3b5e" text-anchor="middle">B</text>
<rect x="447.7" y="822" width="35.2" height="23.6" rx="1.6" fill="#fff" stroke="#203e5c" stroke-width="1.3"/>
<rect x="449.8" y="824.6" width="31.0" height="18.6" fill="#dfe6ee"/>
<rect x="444.6" y="845.6" width="41.4" height="4.4" rx="1.5" fill="#e8eef5" stroke="#203e5c" stroke-width="1.2"/>
<path d="M460.3 845.6 Q460.8 847.2 462.3 847.2 H468.3 Q469.8 847.2 470.3 845.6" fill="none" stroke="#1f3f5f" stroke-width="0.8"/>
<rect x="494.9" y="822" width="36.4" height="23.6" rx="1.6" fill="#fff" stroke="#203e5c" stroke-width="1.3"/>
<rect x="497.0" y="824.6" width="32.2" height="18.6" fill="#dfe6ee"/>
<rect x="491.8" y="845.6" width="42.6" height="4.4" rx="1.5" fill="#e8eef5" stroke="#203e5c" stroke-width="1.2"/>
<path d="M508.1 845.6 Q508.6 847.2 510.1 847.2 H516.1 Q517.6 847.2 518.1 845.6" fill="none" stroke="#1f3f5f" stroke-width="0.8"/>
<rect x="456.3" y="829.7" width="15.6" height="10.7" fill="#2b6aa3"/>
<rect x="456.3" y="829.7" width="15.6" height="1.5" fill="#6b9fd0"/>
<rect x="456.3" y="832.2" width="15.6" height="1.5" fill="#c9436a"/>
<path d="M456.3 836.6H471.9M464 836.6V840.4" stroke="#1c4f80" stroke-width="0.5"/>
<rect x="469.3" y="826.7" width="6.5" height="13.7" fill="#e8364f"/>
<rect x="503.5" y="829.7" width="15.6" height="10.7" fill="#2b6aa3"/>
<rect x="503.5" y="829.7" width="15.6" height="1.5" fill="#6b9fd0"/>
<rect x="503.5" y="832.2" width="15.6" height="1.5" fill="#5cb84a"/>
<path d="M503.5 836.6H519.1M511.3 836.6V840.4" stroke="#1c4f80" stroke-width="0.5"/>
<path d="M517.5 840.4V822.6H515.6L520.4 818.2L525.2 822.6H523.3V840.4Z" fill="#6cc03a"/>
<rect x="448.9" y="853.1" width="32.5" height="4.9" fill="#ec3f55"/>
<text x="465.1" y="856.9" font-size="3.2" fill="#ffd6dc" text-anchor="middle">CONTROL</text>
<rect x="497.3" y="853.1" width="32.3" height="4.9" fill="#6ac03c"/>
<text x="513.4" y="856.9" font-size="3.2" fill="#e2f7d4" text-anchor="middle">VARIATION</text>
<circle cx="606.3" cy="815" r="2.9" fill="#c6d2fb" stroke="#94aaf0" stroke-width="1"/>
<circle cx="631.7" cy="821.5" r="2.9" fill="#c6d2fb" stroke="#94aaf0" stroke-width="1"/>
<circle cx="616.7" cy="829.7" r="2.9" fill="#c6d2fb" stroke="#94aaf0" stroke-width="1"/>
<circle cx="628.4" cy="838.4" r="2.9" fill="#c6d2fb" stroke="#94aaf0" stroke-width="1"/>
<rect x="613.4" y="808.9" width="4.6" height="5.6" rx="0.4" fill="url(#pc)"/>
<rect x="625.9" y="810.2" width="4.6" height="5.6" rx="0.4" fill="url(#pc)"/>
<rect x="607.5" y="823.9" width="4.6" height="5.6" rx="0.4" fill="url(#pc)"/>
<rect x="621.8" y="827.4" width="4.6" height="5.6" rx="0.4" fill="url(#pc)"/>
<rect x="617.7" y="818.8" width="5.8" height="5.6" rx="0.5" fill="url(#gc)"/>
<path d="M617.7 819.4L618.7 818.3H623.9L623.5 819.0Z" fill="#8fbf73"/>
<rect x="633.7" y="825.3" width="5.8" height="5.6" rx="0.5" fill="url(#gc)"/>
<path d="M633.7 825.9L634.7 824.8H639.9L639.5 825.5Z" fill="#8fbf73"/>
<rect x="601.4" y="833.5" width="5.8" height="5.6" rx="0.5" fill="url(#gc)"/>
<path d="M601.4 834.1L602.4 833.0H607.6L607.2 833.7Z" fill="#8fbf73"/>
<rect x="613.5" y="836.0" width="5.8" height="5.6" rx="0.5" fill="url(#gc)"/>
<path d="M613.5 836.6L614.5 835.5H619.7L619.3 836.2Z" fill="#8fbf73"/>
<path d="M645 822.2H656.5V820.4L661 823.8L656.5 827.2V825.4H645Z" fill="url(#ar)"/>
<rect x="663.7" y="802.7" width="34" height="11.40" rx="1.8" fill="#fff" stroke="#d8d8d8" stroke-width="0.8"/>
<rect x="663.7" y="818.75" width="34" height="11.35" rx="1.8" fill="#fff" stroke="#d8d8d8" stroke-width="0.8"/>
<rect x="663.7" y="834.4" width="34" height="10.90" rx="1.8" fill="#fff" stroke="#d8d8d8" stroke-width="0.8"/>
<rect x="666.5" y="805.8" width="4.6" height="5.6" rx="0.4" fill="url(#pc)"/>
<circle cx="668.75" cy="824.2" r="2.9" fill="#c6d2fb" stroke="#94aaf0" stroke-width="1"/>
<rect x="665.9" y="837.1" width="5.8" height="5.6" rx="0.5" fill="url(#gc)"/>
<path d="M665.9 837.7L666.9 836.6H672.0L671.6 837.3Z" fill="#8fbf73"/>
<rect x="674.1" y="805.8" width="4.6" height="5.6" rx="0.4" fill="url(#pc)"/>
<circle cx="676.4" cy="824.2" r="2.9" fill="#c6d2fb" stroke="#94aaf0" stroke-width="1"/>
<rect x="673.5" y="837.1" width="5.8" height="5.6" rx="0.5" fill="url(#gc)"/>
<path d="M673.5 837.7L674.5 836.6H679.7L679.3 837.3Z" fill="#8fbf73"/>
<rect x="681.9" y="805.8" width="4.6" height="5.6" rx="0.4" fill="url(#pc)"/>
<circle cx="684.2" cy="824.2" r="2.9" fill="#c6d2fb" stroke="#94aaf0" stroke-width="1"/>
<rect x="681.3" y="837.1" width="5.8" height="5.6" rx="0.5" fill="url(#gc)"/>
<path d="M681.3 837.7L682.3 836.6H687.5L687.1 837.3Z" fill="#8fbf73"/>
<rect x="689.5" y="805.8" width="4.6" height="5.6" rx="0.4" fill="url(#pc)"/>
<circle cx="691.8" cy="824.2" r="2.9" fill="#c6d2fb" stroke="#94aaf0" stroke-width="1"/>
<rect x="688.9" y="837.1" width="5.8" height="5.6" rx="0.5" fill="url(#gc)"/>
<path d="M688.9 837.7L689.9 836.6H695.1L694.7 837.3Z" fill="#8fbf73"/>
</svg>
<div class="t" id="f118" style="left:382.60px;top:887.87px;font-size:12.2px;font-weight:700;color:#05192D;transform:scaleX(0.9610);transform-origin:0 0;">Special Topics in Machine Learning</div>
<svg style="position:absolute;left:382.3px;top:912.2px" width="9" height="8" viewBox="0 0 9 8"><path d="M0.2 4.2 H5.6" fill="none" stroke="#2fa8d4" stroke-width="1.4"/><path d="M4.3 1.1 L8.2 4.2 L4.3 7.3 Z" fill="#2fa8d4"/></svg>
<div class="t" id="f119" style="left:395.00px;top:909.68px;font-size:10.3px;letter-spacing:0.034px;"><b style="letter-spacing:-0.220px">Time Series Forecasting</b> is a technique for predicting events through a</div>
<div class="t" id="f120" style="left:395.00px;top:921.58px;font-size:10.3px;letter-spacing:0.013px;">sequence of time and can capture seasonality or periodic events.</div>
<svg style="position:absolute;left:382.3px;top:947.0px" width="9" height="8" viewBox="0 0 9 8"><path d="M0.2 4.2 H5.6" fill="none" stroke="#2fa8d4" stroke-width="1.4"/><path d="M4.3 1.1 L8.2 4.2 L4.3 7.3 Z" fill="#2fa8d4"/></svg>
<div class="t" id="f121" style="left:395.00px;top:944.48px;font-size:10.3px;letter-spacing:-0.027px;"><b style="letter-spacing:-0.149px">Natural Language Processing (NLP)</b> allows computers to process and analyze</div>
<div class="t" id="f122" style="left:395.60px;top:956.68px;font-size:10.3px;letter-spacing:0.068px;">large amounts of natural language data.</div>
<div class="t" style="left:396.4px;top:971.78px;font-size:10.3px;">-</div>
<div class="t" id="f123" style="left:402.60px;top:971.78px;font-size:10.3px;letter-spacing:0.065px;">Text as input data</div>
<div class="t" style="left:396.4px;top:986.68px;font-size:10.3px;">-</div>
<div class="t" id="f124" style="left:402.60px;top:986.68px;font-size:10.3px;letter-spacing:0.072px;">Word counts track the important words in a text</div>
<div class="t" style="left:396.4px;top:1001.48px;font-size:10.3px;">-</div>
<div class="t" id="f125" style="left:402.60px;top:1001.48px;font-size:10.3px;letter-spacing:0.004px;">Word embeddings create features that group similar words</div>
</body></html>
